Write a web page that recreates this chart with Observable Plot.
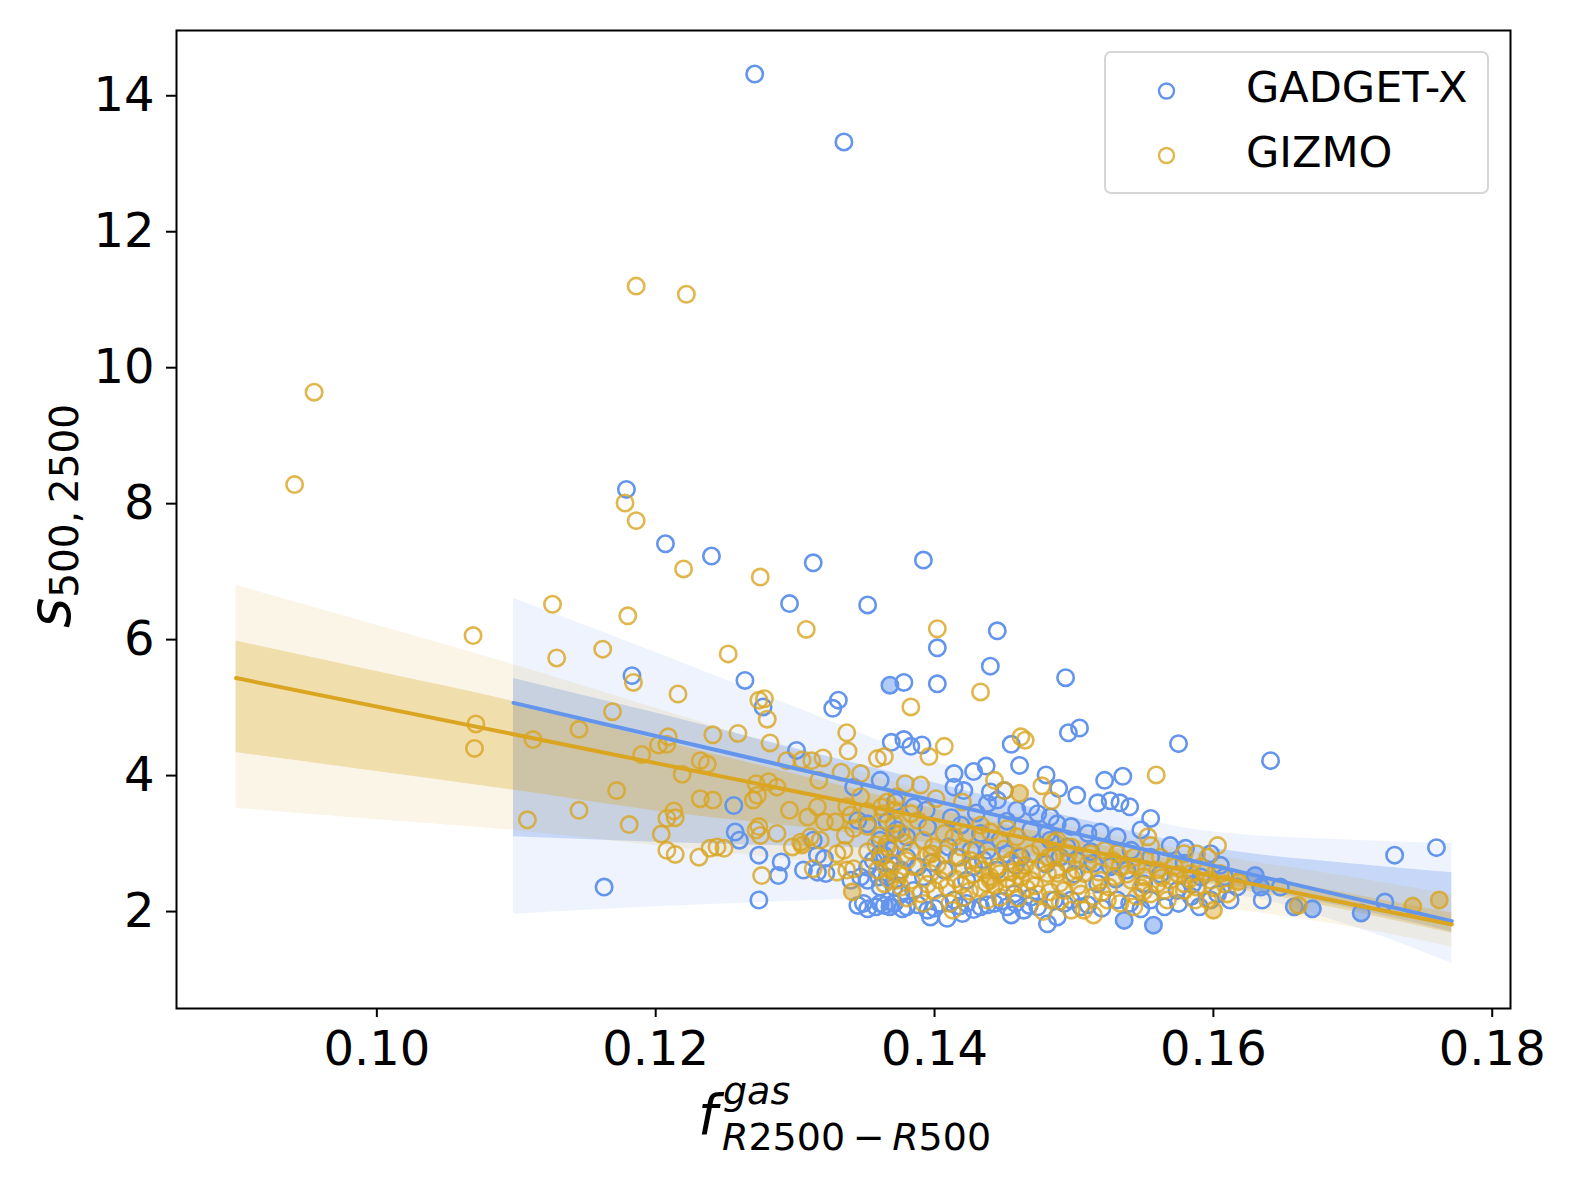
<!DOCTYPE html>
<html>
<head>
<meta charset="utf-8">
<script src="https://cdn.jsdelivr.net/npm/d3@7"></script>
<script src="https://cdn.jsdelivr.net/npm/@observablehq/plot@0.6"></script>
<style>
  html, body { margin: 0; padding: 0; background: #ffffff; }
  #chart svg { display: block; }
</style>
</head>
<body>
<div id="chart"></div>
<script>
// ---------------- data ----------------
const seriesNames = ["GADGET-X", "GIZMO"];
const xTicks = [0.10, 0.12, 0.14, 0.16, 0.18];
const yTicks = [2, 4, 6, 8, 10, 12, 14];

// GADGET-X points [f_gas, s]
const gadgetPoints = [
  [0.1271,14.32],[0.1335,13.32],[0.1179,8.21],[0.1207,7.41],[0.1240,7.23],[0.1313,7.13],[0.1392,7.17],
  [0.1296,6.53],[0.1352,6.51],[0.1183,5.47],[0.1264,5.40],[0.1277,5.01],[0.1331,5.11],[0.1327,4.99],
  [0.1378,5.37],[0.1402,5.88],[0.1402,5.35],[0.1301,4.37],[0.1369,4.49],[0.1378,4.53],[0.1383,4.43],[0.1391,4.45],
  [0.1445,6.13],[0.1440,5.61],[0.1494,5.44],[0.1455,4.46],[0.1496,4.63],[0.1504,4.70],[0.1575,4.47],[0.1641,4.22],
  [0.1535,3.99],[0.1522,3.93],[0.1414,4.03],[0.1428,4.06],[0.1437,4.14],[0.1461,4.15],[0.1480,4.01],[0.1489,3.81],
  [0.1502,3.71],[0.1414,3.83],[0.1421,3.78],[0.1440,3.76],[0.1450,3.78],[0.1517,3.60],[0.1526,3.63],[0.1533,3.60],
  [0.1540,3.54],[0.1555,3.37],[0.1163,2.36],
  [0.1361,3.93],[0.1342,3.83],[0.1256,3.56],[0.1345,3.34],[0.1352,3.29],[0.1366,3.32],[0.1257,3.17],[0.1260,3.05],
  [0.1274,2.83],[0.1290,2.73],[0.1288,2.53],[0.1274,2.17],[0.1316,2.83],[0.1321,2.78],[0.1313,3.05],[0.1306,2.61],
  [0.1316,2.58],[0.1322,2.56],[0.1340,2.46],[0.1347,2.51],[0.1352,2.46],[0.1345,2.09],[0.1352,2.04],[0.1364,2.09],
  [0.1371,2.12],[0.1356,2.75],[0.1364,2.83],[0.1368,2.90],[0.1361,3.05],[0.1373,3.20],[0.1360,2.51],[0.1361,2.36],
  [0.1371,2.36],[0.1352,2.65],
  [0.1372,3.61],[0.1385,3.54],[0.1394,3.49],[0.1438,3.59],[0.1445,3.64],[0.1459,3.49],[0.1469,3.54],[0.1474,3.44],
  [0.1483,3.39],[0.1395,3.24],[0.1419,3.27],[0.1433,3.15],[0.1447,3.05],[0.1469,3.20],[0.1481,3.15],[0.1368,2.71],
  [0.1376,2.61],[0.1388,2.66],[0.1392,2.51],[0.1416,2.80],[0.1426,2.90],[0.1438,2.90],[0.1452,2.85],[0.1462,2.80],
  [0.1371,2.12],[0.1380,2.07],[0.1395,2.02],[0.1404,2.12],[0.1414,2.17],[0.1423,2.12],[0.1433,2.07],[0.1443,2.12],
  [0.1452,2.07],[0.1464,2.02],[0.1474,2.07],[0.1481,1.82],[0.1397,1.92],[0.1409,1.90],[0.1361,2.85],[0.1366,2.51],
  [0.1376,2.26],[0.1385,2.31],[0.1407,2.61],[0.1423,2.46],[0.1428,2.66],[0.1445,2.61],[0.1457,2.26],[0.1469,2.21],
  [0.1486,2.17],[0.1361,2.12],
  [0.1488,3.29],[0.1498,3.25],[0.1510,3.15],[0.1519,3.17],[0.1531,3.10],[0.1548,3.20],[0.1569,2.97],[0.1580,2.93],
  [0.1598,2.85],[0.1605,2.68],[0.1490,2.80],[0.1502,2.75],[0.1514,2.71],[0.1526,2.66],[0.1538,2.61],[0.1498,2.17],
  [0.1505,2.07],[0.1531,2.17],[0.1555,2.17],[0.1565,2.07],[0.1584,2.22],[0.1603,2.26],[0.1612,2.17],[0.1483,3.05],
  [0.1495,2.95],[0.1541,2.90],[0.1555,2.80],[0.1579,2.71],[0.1591,2.51],[0.1608,2.51],[0.1617,2.36],[0.1517,2.41],
  [0.1550,2.41],[0.1574,2.31],[0.1488,1.92],[0.1598,2.17],
  [0.1648,2.36],[0.1635,2.17],[0.1723,2.14],[0.1730,2.83],[0.1760,2.94],
  [0.1349,2.12],[0.1358,2.07],[0.1377,2.04],[0.1388,2.10],[0.1400,2.05],[0.1418,2.08],[0.1428,2.03],[0.1438,2.10],
  [0.1448,2.15],[0.1458,2.12],[0.1468,2.09],[0.1493,2.12],[0.1510,2.10],[0.1520,2.05],[0.1540,2.12],[0.1548,2.04],
  [0.1575,2.12],[0.1590,2.07],[0.1420,1.97],[0.1455,1.95],
  [0.1380,2.80],[0.1398,2.72],[0.1410,2.95],[0.1435,2.76],[0.1458,2.68],[0.1480,2.70],[0.1500,2.55],[0.1512,2.88],
  [0.1530,2.48],[0.1562,2.55],[0.1585,2.40],[0.1380,3.10],[0.1412,3.38],[0.1430,3.45],[0.1452,3.33]
];
// GADGET-X points drawn with a filled face
const gadgetFilledPoints = [
  [0.1368,5.33],[0.1536,1.87],[0.1557,1.80],[0.1630,2.53],[0.1634,2.36],[0.1658,2.07],[0.1671,2.04],[0.1706,1.98],[0.1368,2.07]
];

// GIZMO points [f_gas, s]
const gizmoPoints = [
  [0.1186,11.20],[0.1222,11.08],[0.0955,9.64],[0.0941,8.28],
  [0.1178,8.01],[0.1186,7.75],[0.1220,7.04],[0.1275,6.92],[0.1308,6.15],[0.1126,6.52],[0.1180,6.35],[0.1069,6.06],
  [0.1129,5.73],[0.1162,5.86],[0.1252,5.79],[0.1184,5.37],[0.1216,5.20],[0.1274,5.11],[0.1278,5.13],[0.1280,4.83],
  [0.1383,5.01],[0.1402,6.16],[0.1071,4.76],[0.1070,4.40],[0.1112,4.53],[0.1145,4.68],[0.1169,4.94],[0.1209,4.57],
  [0.1202,4.45],[0.1208,4.46],[0.1190,4.31],[0.1241,4.60],[0.1259,4.62],[0.1282,4.48],[0.1337,4.63],[0.1338,4.36],
  [0.1396,4.28],[0.1359,4.25],[0.1364,4.28],[0.1237,4.17],[0.1294,4.22],[0.1312,4.22],[0.1320,4.26],[0.1305,4.23],
  [0.1433,5.23],[0.1407,4.43],[0.1462,4.57],[0.1465,4.52],[0.1559,4.01],[0.1443,3.93],[0.1477,3.85],[0.1484,3.63],
  [0.1219,4.02],[0.1232,4.22],[0.1232,3.66],[0.1172,3.78],[0.1108,3.35],[0.1145,3.49],[0.1181,3.28],[0.1213,3.48],
  [0.1208,3.37],[0.1214,3.38],[0.1204,3.14],[0.1208,2.90],[0.1214,2.84],[0.1231,2.80],
  [0.1333,4.05],[0.1347,4.03],[0.1317,3.93],[0.1272,3.88],[0.1281,3.91],[0.1287,3.83],[0.1273,3.71],[0.1270,3.64],
  [0.1241,3.64],[0.1296,3.49],[0.1309,3.39],[0.1316,3.54],[0.1321,3.32],[0.1329,3.32],[0.1337,3.54],[0.1340,3.42],
  [0.1347,3.69],[0.1352,3.47],[0.1362,3.54],[0.1366,3.61],[0.1371,3.49],[0.1373,3.69],[0.1272,3.20],[0.1275,3.12],
  [0.1274,3.25],[0.1287,3.15],[0.1239,2.93],[0.1244,2.95],[0.1249,2.93],[0.1276,2.53],[0.1298,2.95],[0.1304,3.02],
  [0.1311,3.10],[0.1318,3.05],[0.1313,2.63],[0.1330,2.85],[0.1335,2.90],[0.1330,2.58],[0.1337,2.61],[0.1342,2.63],
  [0.1336,3.12],[0.1342,3.22],[0.1352,3.25],[0.1359,2.61],[0.1361,2.80],[0.1366,3.00],[0.1371,3.15],[0.1361,3.12],
  [0.1368,2.61],[0.1373,2.46],[0.1364,2.41],[0.1371,2.71],
  [0.1379,3.88],[0.1390,3.86],[0.1401,3.66],[0.1420,3.61],[0.1450,3.78],[0.1364,3.44],[0.1371,3.29],[0.1383,3.44],
  [0.1388,3.34],[0.1407,3.15],[0.1414,3.10],[0.1423,3.15],[0.1433,3.27],[0.1440,3.17],[0.1452,3.22],[0.1459,3.10],
  [0.1476,2.95],[0.1486,3.02],[0.1469,2.85],[0.1482,2.80],[0.1366,2.95],[0.1378,3.02],[0.1383,2.90],[0.1395,2.83],
  [0.1365,2.66],[0.1383,2.46],[0.1397,2.56],[0.1409,2.61],[0.1421,2.63],[0.1431,2.71],[0.1435,2.61],[0.1440,2.51],
  [0.1447,2.56],[0.1455,2.58],[0.1462,2.51],[0.1469,2.46],[0.1474,2.61],[0.1481,2.56],[0.1487,2.61],[0.1390,2.26],
  [0.1400,2.31],[0.1409,2.36],[0.1419,2.39],[0.1433,2.34],[0.1443,2.39],[0.1452,2.36],[0.1466,2.34],[0.1474,2.26],
  [0.1483,2.29],[0.1411,2.12],[0.1413,2.02],[0.1478,2.00],
  [0.1376,3.15],[0.1392,3.05],[0.1399,2.95],[0.1407,2.85],[0.1419,2.95],[0.1426,2.75],[0.1440,2.80],[0.1445,2.66],
  [0.1455,2.75],[0.1457,2.41],[0.1447,2.21],[0.1438,2.17],[0.1421,2.21],[0.1404,2.46],[0.1376,2.36],[0.1368,2.46],
  [0.1385,2.66],[0.1392,2.12],
  [0.1553,3.10],[0.1555,2.97],[0.1603,2.97],[0.1588,2.85],[0.1596,2.80],[0.1579,2.85],[0.1562,2.80],[0.1488,3.05],
  [0.1498,2.95],[0.1512,2.85],[0.1522,2.90],[0.1531,2.85],[0.1543,2.80],[0.1488,2.56],[0.1498,2.51],[0.1507,2.56],
  [0.1519,2.46],[0.1529,2.51],[0.1541,2.46],[0.1550,2.51],[0.1560,2.41],[0.1569,2.46],[0.1579,2.41],[0.1588,2.36],
  [0.1598,2.46],[0.1608,2.41],[0.1493,2.31],[0.1505,2.26],[0.1514,2.22],[0.1524,2.17],[0.1533,2.12],[0.1545,2.22],
  [0.1555,2.26],[0.1565,2.31],[0.1579,2.31],[0.1587,2.17],[0.1514,1.95],[0.1507,2.02],
  [0.1486,2.80],[0.1495,2.71],[0.1502,2.61],[0.1533,2.66],[0.1545,2.66],[0.1560,2.61],[0.1572,2.66],[0.1584,2.56],
  [0.1591,2.66],[0.1605,2.56],[0.1483,2.17],[0.1498,2.02],[0.1543,2.07],[0.1567,2.17],[0.1596,2.17],[0.1610,2.26],
  [0.1352,2.88],[0.1358,2.98],[0.1375,2.55],[0.1380,2.75],[0.1395,2.40],[0.1402,2.70],[0.1415,2.48],[0.1418,2.80],
  [0.1428,2.55],[0.1430,2.90],[0.1437,2.42],[0.1450,2.92],[0.1452,2.48],[0.1460,2.82],[0.1465,2.68],[0.1472,2.38],
  [0.1478,2.72],[0.1490,2.42],[0.1496,2.85],[0.1503,2.38],[0.1510,2.70],[0.1518,2.58],[0.1525,2.36],[0.1528,2.75],
  [0.1538,2.55],[0.1548,2.35],[0.1552,2.62],[0.1563,2.50],[0.1575,2.55],[0.1583,2.48],[0.1594,2.58],[0.1600,2.35],
  [0.1380,2.20],[0.1425,2.30],[0.1460,2.20],[0.1490,2.15],[0.1520,2.28],[0.1550,2.30]
];
// GIZMO points drawn with a filled face
const gizmoFilledPoints = [
  [0.1461,3.74],[0.1305,2.98],[0.1341,2.29],[0.1398,2.85],[0.1462,2.61],[0.1440,2.46],[0.1600,2.02],
  [0.1618,2.44],[0.1661,2.09],[0.1743,2.08],[0.1762,2.17]
];

// regression lines
const gadgetLineX = [0.1098, 0.1771];
const gadgetLineY = [5.07, 1.86];
const gizmoLineX = [0.0899, 0.1771];
const gizmoLineY = [5.435, 1.81];

// confidence bands (edges read at several x)
const gadgetBandX   = [0.1098, 0.12, 0.13, 0.14, 0.15, 0.16, 0.17, 0.1771];
const gadgetOuterHi = [6.61, 5.81, 5.01, 4.21, 3.62, 3.17, 3.05, 3.00];
const gadgetOuterLo = [1.96, 2.07, 2.15, 2.22, 2.25, 2.26, 1.78, 1.235];
const gadgetInnerHi = [5.43, 4.92, 4.40, 3.89, 3.38, 2.93, 2.70, 2.57];
const gadgetInnerLo = [3.10, 3.02, 2.96, 2.89, 2.66, 2.42, 2.04, 1.70];

const gizmoBandX   = [0.0899, 0.10, 0.11, 0.12, 0.13, 0.14, 0.15, 0.16, 0.17, 0.1771];
const gizmoOuterHi = [6.80, 6.21, 5.62, 4.99, 4.36, 3.73, 3.24, 2.83, 2.50, 2.25];
const gizmoOuterLo = [3.52, 3.35, 3.19, 2.97, 2.76, 2.55, 2.33, 2.07, 1.77, 1.48];
const gizmoInnerHi = [5.98, 5.53, 5.08, 4.53, 4.02, 3.51, 3.06, 2.65, 2.25, 1.98];
const gizmoInnerLo = [4.34, 4.06, 3.78, 3.48, 3.25, 3.00, 2.72, 2.39, 2.00, 1.68];

// ---------------- build tables ----------------
const blueC = "#6495ED";
const goldC = "#DAA520";
const pts = arr => arr.map(([x, y]) => ({x, y}));
const band = (xs, lo, hi) => xs.map((x, i) => ({x, lo: lo[i], hi: hi[i]}));
const lineTbl = (xs, ys) => xs.map((x, i) => ({x, y: ys[i]}));

const gadget = pts(gadgetPoints), gadgetF = pts(gadgetFilledPoints);
const gizmo = pts(gizmoPoints), gizmoF = pts(gizmoFilledPoints);

const W = 1578, H = 1183;
const mL = 176, mR = 68, mT = 30, mB = 175;

const chart = Plot.plot({
  width: W, height: H,
  marginLeft: mL, marginRight: mR, marginTop: mT, marginBottom: mB,
  style: {fontFamily: "DejaVu Sans", fontSize: "48px", color: "black", background: "white", overflow: "visible"},
  x: {domain: [0.08563, 0.18131]},
  y: {domain: [0.574, 14.96]},
  marks: [
    Plot.areaY(band(gadgetBandX, gadgetOuterLo, gadgetOuterHi), {x: "x", y1: "lo", y2: "hi", fill: blueC, fillOpacity: 0.11, curve: "monotone-x"}),
    Plot.areaY(band(gadgetBandX, gadgetInnerLo, gadgetInnerHi), {x: "x", y1: "lo", y2: "hi", fill: blueC, fillOpacity: 0.29, curve: "monotone-x"}),
    Plot.areaY(band(gizmoBandX, gizmoOuterLo, gizmoOuterHi), {x: "x", y1: "lo", y2: "hi", fill: goldC, fillOpacity: 0.11, curve: "monotone-x"}),
    Plot.areaY(band(gizmoBandX, gizmoInnerLo, gizmoInnerHi), {x: "x", y1: "lo", y2: "hi", fill: goldC, fillOpacity: 0.29, curve: "monotone-x"}),
    Plot.dot(gadget, {x: "x", y: "y", r: 8.2, stroke: blueC, strokeWidth: 2.6, strokeOpacity: 1, fill: "none"}),
    Plot.dot(gadgetF, {x: "x", y: "y", r: 8.2, stroke: blueC, strokeWidth: 2.6, strokeOpacity: 1, fill: blueC, fillOpacity: 0.5}),
    Plot.dot(gizmo, {x: "x", y: "y", r: 8.2, stroke: goldC, strokeWidth: 2.6, strokeOpacity: 0.8, fill: "none"}),
    Plot.dot(gizmoF, {x: "x", y: "y", r: 8.2, stroke: goldC, strokeWidth: 2.6, strokeOpacity: 0.8, fill: goldC, fillOpacity: 0.45}),
    Plot.line(lineTbl(gadgetLineX, gadgetLineY), {x: "x", y: "y", stroke: blueC, strokeWidth: 4}),
    Plot.line(lineTbl(gizmoLineX, gizmoLineY), {x: "x", y: "y", stroke: goldC, strokeWidth: 4}),
    Plot.axisX({ticks: xTicks, tickFormat: d3.format(".2f"), tickSize: 9, tickPadding: 13, strokeWidth: 2, fontSize: 48, label: null}),
    Plot.axisY({ticks: yTicks, tickFormat: d3.format("d"), tickSize: 10, tickPadding: 12, strokeWidth: 2, fontSize: 48, label: null}),
    Plot.frame({stroke: "black", strokeWidth: 2})
  ]
});

document.getElementById("chart").appendChild(chart);

// ---------------- axis titles and legend ----------------
const svg = d3.select(chart);
const font = "DejaVu Sans";
const addText = (sel) => sel.attr("font-family", font).attr("fill", "black").attr("text-anchor", "start");

// y title: s_{500, 2500}
const yt = addText(svg.append("text").attr("transform", "translate(70,628) rotate(-90)"));
yt.append("tspan").attr("font-size", 58).attr("font-style", "italic").text("s");
yt.append("tspan").attr("font-size", 39).attr("dy", 8).text("500,\u20092500");

// x title: f^{gas}_{R2500 - R500}
addText(svg.append("text").attr("x", 698).attr("y", 1134))
  .attr("font-size", 55).attr("font-style", "italic").text("f");
addText(svg.append("text").attr("x", 723).attr("y", 1104))
  .attr("font-size", 38).attr("font-style", "italic").text("gas");
const xs = addText(svg.append("text").attr("x", 722).attr("y", 1150)).attr("font-size", 38);
xs.append("tspan").attr("font-style", "italic").text("R");
xs.append("tspan").text("2500\u2009\u2212\u2009");
xs.append("tspan").attr("font-style", "italic").text("R");
xs.append("tspan").text("500");

// legend
const lg = svg.append("g");
lg.append("rect").attr("x", 1105).attr("y", 52).attr("width", 383).attr("height", 141).attr("rx", 6)
  .attr("fill", "white").attr("fill-opacity", 0.8).attr("stroke", "#d6d6d6").attr("stroke-width", 2);
const legendColors = [blueC, goldC];
const legendOpacity = [1, 0.8];
seriesNames.forEach((name, i) => {
  const cy = 91 + i * 64.5;
  lg.append("circle").attr("cx", 1166.5).attr("cy", cy).attr("r", 7.5)
    .attr("fill", "none").attr("stroke", legendColors[i]).attr("stroke-width", 2.4).attr("stroke-opacity", legendOpacity[i]);
  addText(lg.append("text").attr("x", 1246).attr("y", cy + 11)).attr("font-size", 43).text(name);
});
</script>
</body>
</html>
